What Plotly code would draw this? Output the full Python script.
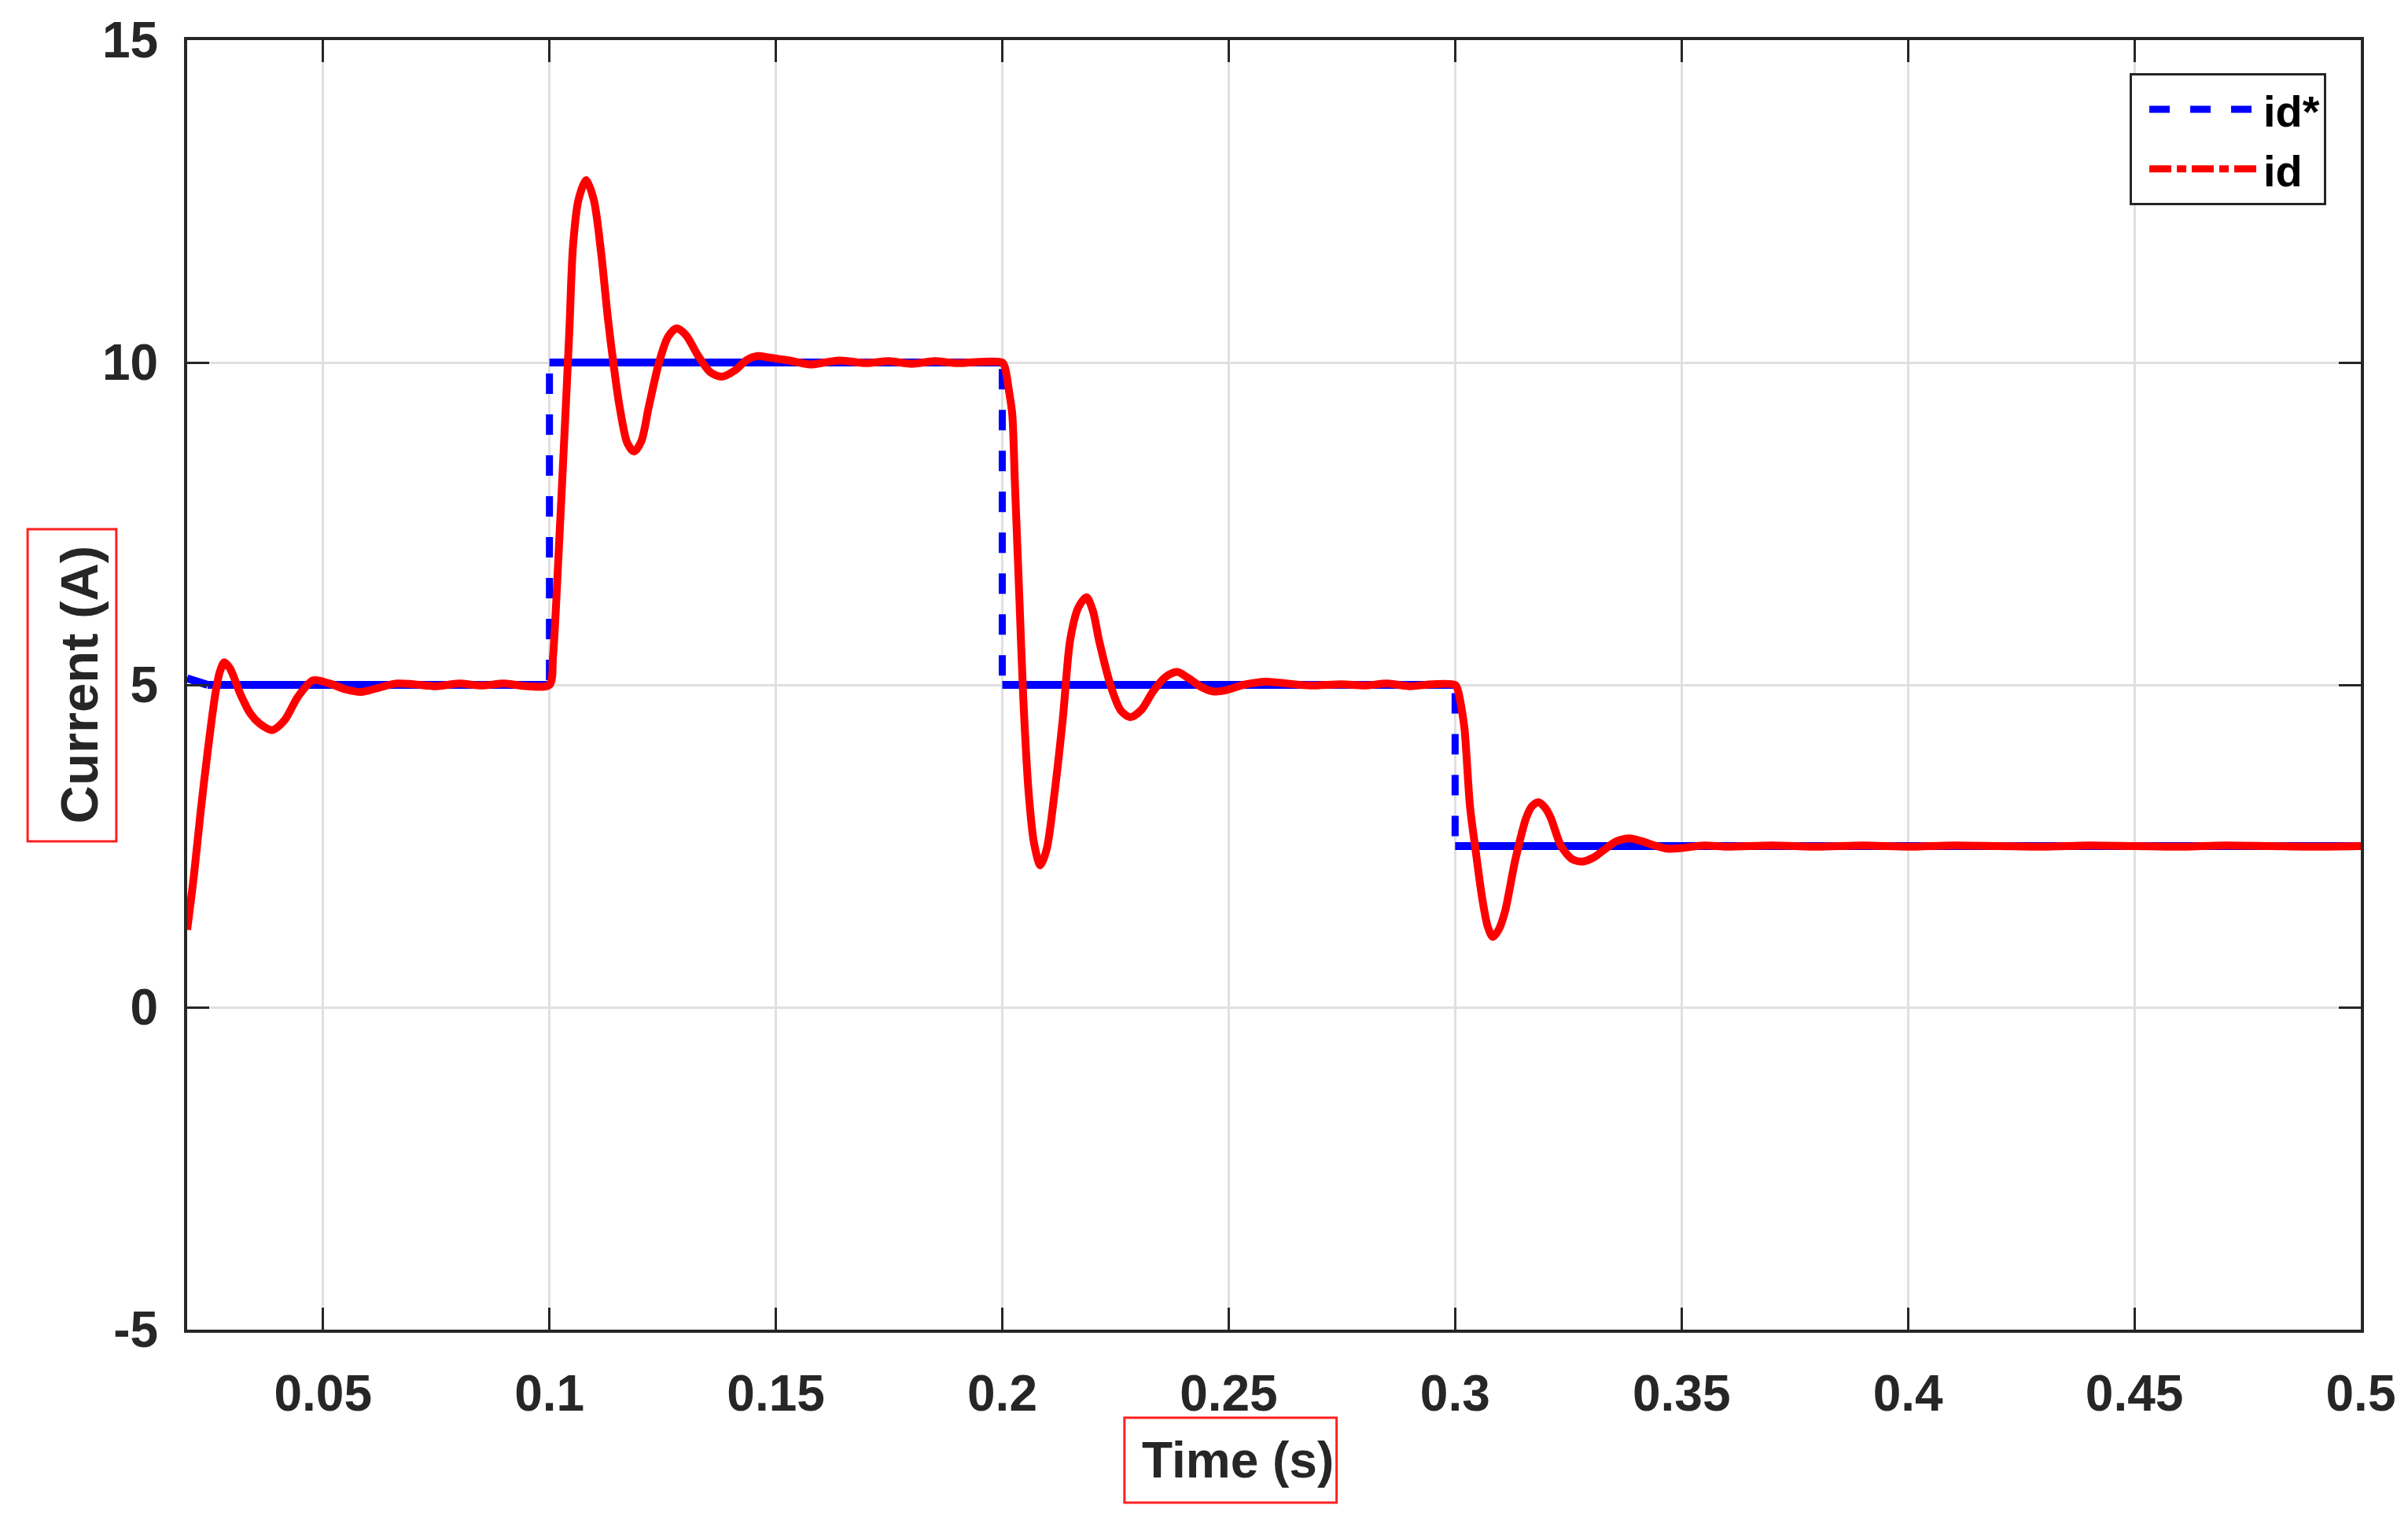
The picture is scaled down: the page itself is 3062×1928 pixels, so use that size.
import plotly.graph_objects as go

# reference current id* (step command)
t_ref = [0.0200, 0.0245, 0.1000, 0.1000, 0.2000, 0.2000, 0.3000, 0.3000, 0.5000]
i_ref = [5.10, 5.00, 5.00, 10.00, 10.00, 5.00, 5.00, 2.50, 2.50]

t_id = [
    0.0200, 0.0215, 0.0230, 0.0245, 0.0262, 0.0272, 0.0282, 0.0295, 0.0318, 0.0340,
    0.0360, 0.0388, 0.0415, 0.0445, 0.0478, 0.0515, 0.0550, 0.0584, 0.0620, 0.0660,
    0.0700, 0.0750, 0.0800, 0.0850, 0.0900, 0.0950, 0.1000,
    0.1008, 0.1020, 0.1036, 0.1044, 0.1052, 0.1064, 0.1081, 0.1098, 0.1114, 0.1129,
    0.1141, 0.1155, 0.1172, 0.1187, 0.1203, 0.1219, 0.1242, 0.1262, 0.1281, 0.1302,
    0.1327, 0.1355, 0.1381, 0.1410, 0.1436, 0.1460, 0.1482, 0.1530, 0.1575, 0.1640,
    0.1700, 0.1750, 0.1800, 0.1850, 0.1900, 0.1950, 0.2000,
    0.2006, 0.2015, 0.2022, 0.2028, 0.2038, 0.2046, 0.2058, 0.2070, 0.2084, 0.2098,
    0.2115, 0.2134, 0.2150, 0.2168, 0.2186, 0.2200, 0.2214, 0.2241, 0.2262, 0.2283,
    0.2308, 0.2333, 0.2360, 0.2386, 0.2412, 0.2439, 0.2465, 0.2490, 0.2532, 0.2584,
    0.2630, 0.2680, 0.2750, 0.2800, 0.2850, 0.2900, 0.2950, 0.3000,
    0.3006, 0.3015, 0.3021, 0.3033, 0.3044, 0.3060, 0.3072, 0.3083, 0.3096, 0.3110,
    0.3133, 0.3157, 0.3170, 0.3184, 0.3198, 0.3211, 0.3234, 0.3258, 0.3281, 0.3305,
    0.3327, 0.3355, 0.3385, 0.3410, 0.3440, 0.3467, 0.3500, 0.3550, 0.3600, 0.3700,
    0.3800, 0.3900, 0.4000, 0.4100, 0.4200, 0.4300, 0.4400, 0.4500, 0.4600, 0.4700,
    0.4800, 0.4900, 0.5000,
]
i_id = [
    1.20, 2.05, 3.05, 3.95, 4.85, 5.20, 5.35, 5.25, 4.85, 4.55,
    4.40, 4.30, 4.45, 4.82, 5.07, 5.02, 4.93, 4.89, 4.95, 5.02,
    5.01, 4.98, 5.02, 4.99, 5.02, 4.98, 5.00,
    5.45, 7.00, 9.30, 10.50, 11.80, 12.52, 12.83, 12.52, 11.71, 10.69,
    10.00, 9.31, 8.75, 8.62, 8.78, 9.30, 10.00, 10.40, 10.53, 10.42,
    10.12, 9.85, 9.78, 9.88, 10.04, 10.10, 10.08, 10.03, 9.97, 10.03,
    9.99, 10.02, 9.98, 10.02, 9.99, 10.01, 10.00,
    9.92, 9.55, 9.20, 8.10, 6.30, 4.85, 3.35, 2.55, 2.20, 2.45,
    3.30, 4.50, 5.70, 6.20, 6.36, 6.15, 5.68, 4.95, 4.60, 4.50,
    4.62, 4.90, 5.12, 5.20, 5.10, 4.97, 4.90, 4.91, 5.00, 5.05,
    5.02, 4.99, 5.01, 4.99, 5.02, 4.98, 5.01, 5.00,
    4.92, 4.60, 4.30, 3.10, 2.50, 1.68, 1.25, 1.09, 1.20, 1.48,
    2.29, 2.94, 3.12, 3.18, 3.10, 2.94, 2.50, 2.30, 2.26, 2.32,
    2.43, 2.57, 2.62, 2.58, 2.51, 2.46, 2.47, 2.51, 2.49, 2.51,
    2.49, 2.51, 2.49, 2.51, 2.50, 2.49, 2.51, 2.50, 2.49, 2.51,
    2.50, 2.49, 2.50,
]

x_ticks = [0.05, 0.1, 0.15, 0.2, 0.25, 0.3, 0.35, 0.4, 0.45, 0.5]
x_labels = ['0.05', '0.1', '0.15', '0.2', '0.25', '0.3', '0.35', '0.4', '0.45', '0.5']
y_ticks = [-5, 0, 5, 10, 15]
y_labels = ['-5', '0', '5', '10', '15']

FONT = 'Liberation Sans'
AXIS = '#262626'

# flat parts of id* drawn solid (they look solid under the dense data)
flat_t, flat_i = [], []
for k in range(len(t_ref) - 1):
    if t_ref[k] != t_ref[k + 1]:
        flat_t += [t_ref[k], t_ref[k + 1], None]
        flat_i += [i_ref[k], i_ref[k + 1], None]

fig = go.Figure()

fig.add_trace(go.Scatter(
    x=flat_t, y=flat_i, mode='lines', showlegend=False, hoverinfo='skip',
    line=dict(color='#0000ff', width=10)
))
fig.add_trace(go.Scatter(
    x=t_ref, y=i_ref, mode='lines', name='id*',
    line=dict(color='#0000ff', width=9, dash='26px,26px')
))
fig.add_trace(go.Scatter(
    x=t_id, y=i_id, mode='lines', showlegend=False,
    line=dict(color='#ff0000', width=10, shape='spline', smoothing=0.8)
))
# legend entry for id (dash-dot as in the legend sample)
fig.add_trace(go.Scatter(
    x=[None], y=[None], mode='lines', name='id',
    line=dict(color='#ff0000', width=9, dash='28px,7px,12px,7px')
))

axis_common = dict(
    showline=True, linecolor=AXIS, linewidth=4, mirror='ticks',
    ticks='inside', ticklen=28, tickwidth=3, tickcolor=AXIS,
    showgrid=True, gridcolor='#e0e0e0', gridwidth=3, zeroline=False,
    automargin=False,
    tickfont=dict(family=FONT, size=64, color=AXIS, weight='bold'),
)

fig.update_layout(
    width=3062, height=1928,
    margin=dict(l=230, r=68, t=43, b=245),
    plot_bgcolor='white', paper_bgcolor='white',
    xaxis=dict(range=[0.02, 0.5], tickvals=x_ticks, ticktext=x_labels,
               ticklabelstandoff=22, **axis_common),
    yaxis=dict(range=[-5, 15], tickvals=y_ticks, ticktext=y_labels,
               ticklabelstandoff=20, **axis_common),
    legend=dict(
        x=0.9841, y=0.9744, xanchor='right', yanchor='top',
        bgcolor='white', bordercolor=AXIS, borderwidth=3,
        itemwidth=140, indentation=17,
        font=dict(family=FONT, size=56, color='black', weight='bold'),
    ),
    annotations=[
        dict(text='Time (s)', xref='paper', yref='paper', x=0.4834, y=-0.1012,
             xanchor='center', yanchor='middle', showarrow=False,
             font=dict(family=FONT, size=64, color=AXIS, weight='bold')),
        dict(text='Current (A)', xref='paper', yref='paper', x=-0.0496, y=0.5003,
             xanchor='center', yanchor='middle', showarrow=False, textangle=-90,
             font=dict(family=FONT, size=67, color=AXIS, weight='bold')),
    ],
    shapes=[
        dict(type='rect', xref='paper', yref='paper', x0=0.4312, x1=0.5288,
             y0=-0.1341, y1=-0.0683, line=dict(color='#ff2020', width=3)),
        dict(type='rect', xref='paper', yref='paper', x0=-0.0734, x1=-0.0326,
             y0=0.3787, y1=0.6207, line=dict(color='#ff2020', width=3)),
    ],
)

fig.write_html('out.html')
